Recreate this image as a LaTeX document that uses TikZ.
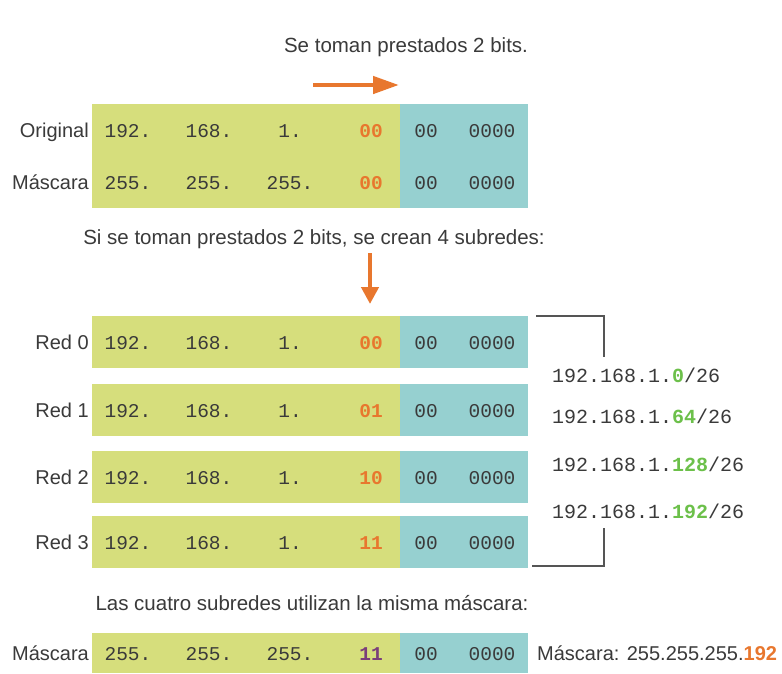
\documentclass[tikz,border=0pt]{standalone}
\usepackage{fontspec}
\setmainfont{Liberation Sans}
\newfontfamily\monof{Liberation Mono}
\usetikzlibrary{arrows.meta}
\definecolor{cgreen}{HTML}{D6DE7C}
\definecolor{cteal}{HTML}{96D0D0}
\definecolor{corange}{HTML}{E8772E}
\definecolor{cip}{HTML}{6CC04A}
\definecolor{ctext}{HTML}{3A3A3A}
\definecolor{cpurple}{HTML}{7A3E7A}
\definecolor{cline}{HTML}{555555}
\tikzset{
  lbl/.style={anchor=base east, font=\fontsize{20}{24}\selectfont, text=ctext, inner sep=0pt},
  captxt/.style={anchor=base, font=\fontsize{20.5}{24}\selectfont, text=ctext, inner sep=0pt},
  mono/.style={anchor=base, font=\fontsize{19.5}{22}\monof, text=ctext, inner sep=0pt},
  bitsf/.style={anchor=base, font=\fontsize{19.5}{22}\monof\bfseries, inner sep=0pt},
  ipf/.style={anchor=base west, font=\fontsize{20}{22}\monof, text=ctext, inner sep=0pt},
  gbox/.style={fill=cgreen, draw=none, anchor=north west, minimum width=308pt, inner sep=0pt, outer sep=0pt},
  tbox/.style={fill=cteal, draw=none, anchor=north west, minimum width=128pt, inner sep=0pt, outer sep=0pt},
  oarrow/.style={draw=corange, line width=4.5pt},
  bracket/.style={draw=cline, line width=1.6pt},
}
\newcommand\iprow[9]{%
  \pgfmathsetmacro\rh{#3-#2}%
  \pgfmathsetmacro\rb{(#2+#3)/2+7}%
  \node[gbox,minimum height=\rh pt] (#1g) at (92,#2) {};
  \node[tbox,minimum height=\rh pt] (#1t) at (400,#2) {};
  \node[lbl] (#1l) at (89,\rb) {#4};
  \node[mono] (#1a) at (128,\rb) {#5};
  \node[mono] (#1b) at (209,\rb) {#6};
  \node[mono] (#1c) at (290,\rb) {#7};
  \node[bitsf,text=#9] (#1d) at (371,\rb) {#8};
  \node[mono] (#1e) at (426,\rb) {00};
  \node[mono] (#1f) at (492,\rb) {0000};
}
\begin{document}
\begin{tikzpicture}[x=1pt,y=-1pt]
\useasboundingbox[fill=white] (0,0) rectangle (782,673);

% top caption and arrow
\node[captxt] (cap1) at (406,52) {Se toman prestados 2 bits.};
\coordinate (ha1) at (313,85);
\coordinate (ha2) at (399,85);
\draw[oarrow,-{Triangle[length=26pt,width=17pt]}] (ha1) -- (ha2);

% top block
\node[gbox,minimum height=104pt] (topg) at (92,104) {};
\node[tbox,minimum height=104pt] (topt) at (400,104) {};
\node[lbl] (origl) at (89,137) {Original};
\node[mono] (o1) at (128,137) {192.};
\node[mono] (o2) at (209,137) {168.};
\node[mono] (o3) at (290,137) {1.};
\node[bitsf,text=corange] (o4) at (371,137) {00};
\node[mono] (o5) at (426,137) {00};
\node[mono] (o6) at (492,137) {0000};
\node[lbl] (mascl) at (89,189) {Máscara};
\node[mono] (m1) at (128,189) {255.};
\node[mono] (m2) at (209,189) {255.};
\node[mono] (m3) at (290,189) {255.};
\node[bitsf,text=corange] (m4) at (371,189) {00};
\node[mono] (m5) at (426,189) {00};
\node[mono] (m6) at (492,189) {0000};

% second caption and down arrow
\node[captxt] (cap2) at (314,244) {Si se toman prestados 2 bits, se crean 4 subredes:};
\coordinate (va1) at (370,253);
\coordinate (va2) at (370,304);
\draw[oarrow,-{Triangle[length=17pt,width=17pt]}] (va1) -- (va2);

% subnet rows
\iprow{r0}{316}{368}{Red 0}{192.}{168.}{1.}{00}{corange}
\iprow{r1}{384}{436}{Red 1}{192.}{168.}{1.}{01}{corange}
\iprow{r2}{451}{503}{Red 2}{192.}{168.}{1.}{10}{corange}
\iprow{r3}{516}{568}{Red 3}{192.}{168.}{1.}{11}{corange}

% brackets
\coordinate (bt1) at (536,316);
\coordinate (bt2) at (604,316);
\coordinate (bt3) at (604,357);
\draw[bracket] (bt1) -- (bt2) -- (bt3);
\coordinate (bb1) at (604,528);
\coordinate (bb2) at (604,566);
\coordinate (bb3) at (532,566);
\draw[bracket] (bb1) -- (bb2) -- (bb3);

% subnet addresses
\node[ipf] (ip0) at (552,382) {192.168.1.{\bfseries\color{cip}0}/26};
\node[ipf] (ip1) at (552,423) {192.168.1.{\bfseries\color{cip}64}/26};
\node[ipf] (ip2) at (552,471) {192.168.1.{\bfseries\color{cip}128}/26};
\node[ipf] (ip3) at (552,518) {192.168.1.{\bfseries\color{cip}192}/26};

% bottom caption and mask
\node[captxt] (cap3) at (312,610) {Las cuatro subredes utilizan la misma máscara:};
\iprow{bm}{633}{673}{Máscara}{255.}{255.}{255.}{11}{cpurple}
\node[lbl,anchor=base west] (maskr) at (537,660) {Máscara: 255.255.255.{\bfseries\color{corange}192}};
\end{tikzpicture}
\end{document}
